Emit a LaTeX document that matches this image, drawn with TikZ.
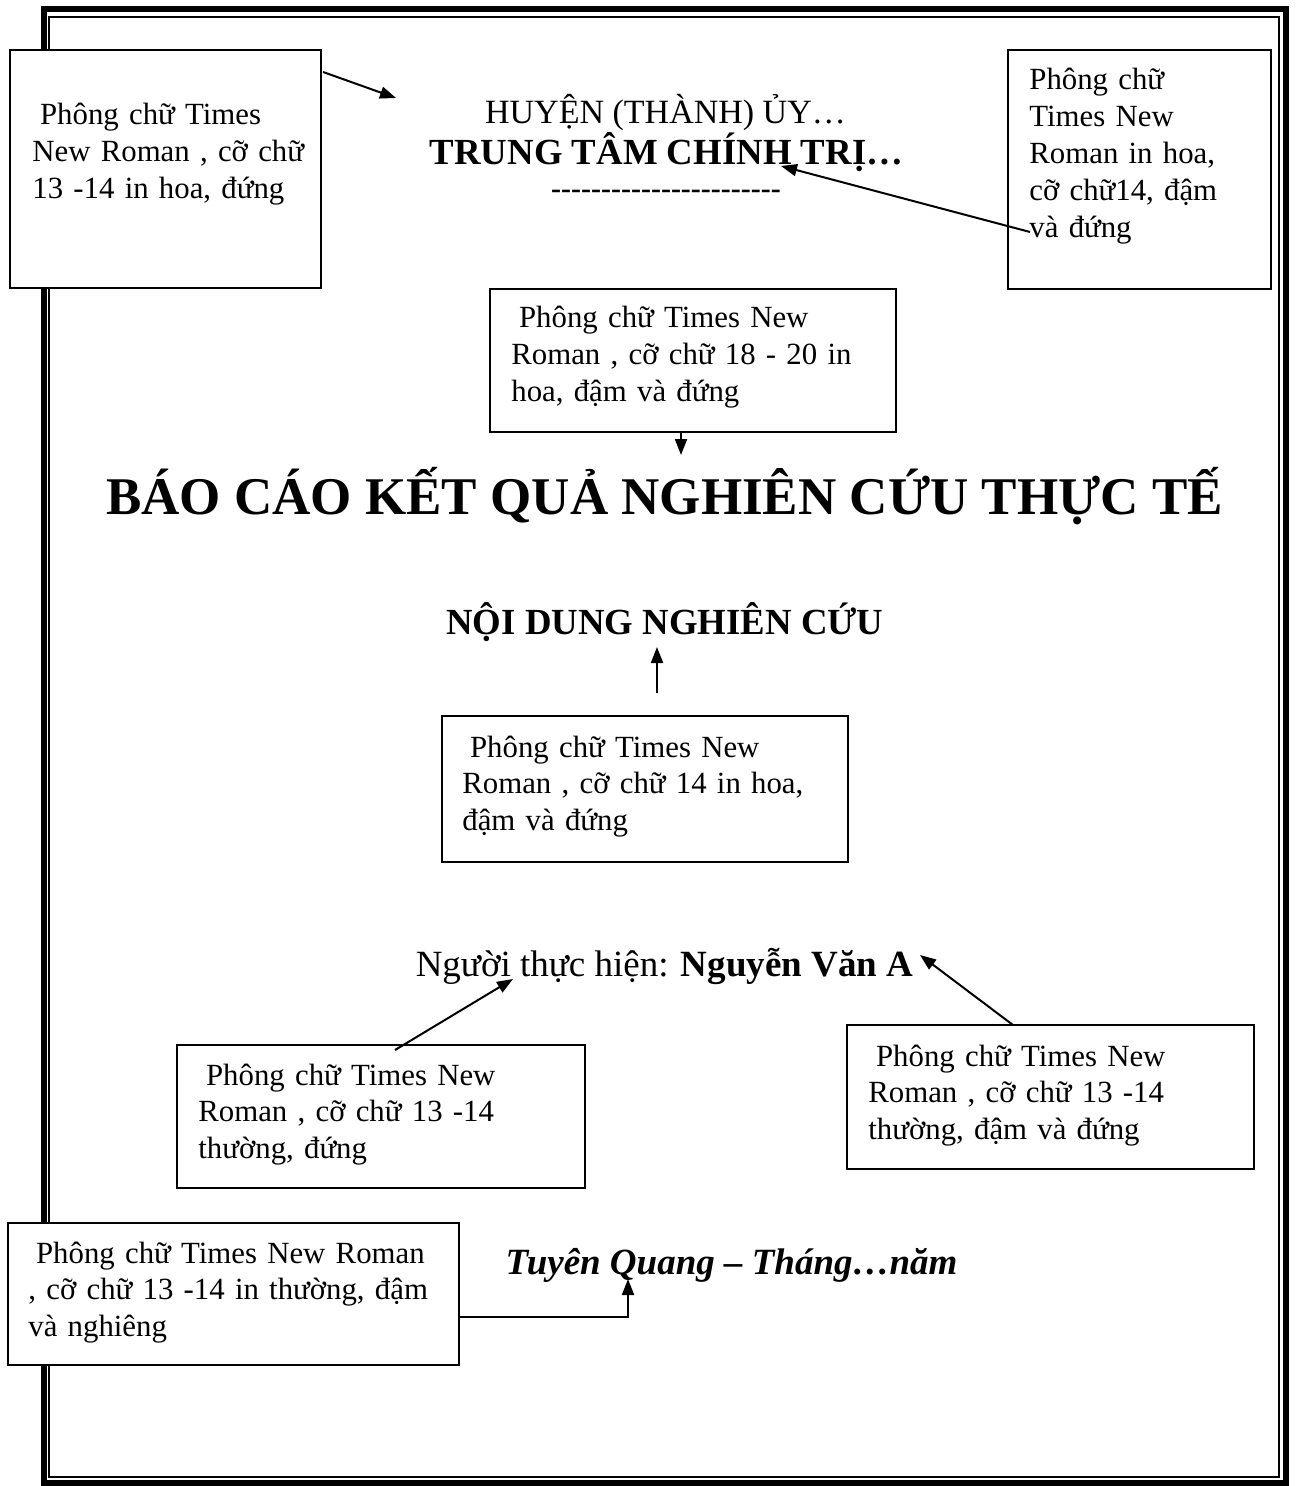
\documentclass[tikz,border=0pt]{standalone}
\usepackage{fontspec}
\setmainfont{Liberation Serif}
\usetikzlibrary{arrows.meta,calc}
\tikzset{
  boxnode/.style={draw, line width=1pt, fill=white, inner sep=0pt, outer sep=0pt},
  boxtext/.style={anchor=base west, inner sep=0pt, text width=240pt, align=left,
                  font=\fontsize{15.4}{18.4}\selectfont},
  headtext/.style={anchor=base, inner sep=0pt},
  arr/.style={line width=1pt, -{Triangle[length=8pt,width=6pt]}},
}
\newcommand{\lsp}{\hspace*{0.25em}}
\begin{document}
\begin{tikzpicture}[x=0.5pt,y=-0.5pt]
\useasboundingbox (0,0) rectangle (1296,1486);
\fill[white] (0,0) rectangle (1296,1486);
% page frame
\draw[line width=3pt] (43.5,9.5) rectangle (1286,1483);
\draw[line width=1pt] (49,17) rectangle (1279,1477);

% boxes
\node[boxnode, minimum width=155.5pt, minimum height=119pt] (b1) at (165.5,169) {};
\node[boxnode, minimum width=131.5pt, minimum height=119.5pt] (b2) at (1139.5,169.5) {};
\node[boxnode, minimum width=203pt, minimum height=71.5pt] (b3) at (693,360.5) {};
\node[boxnode, minimum width=203pt, minimum height=73pt] (b4) at (645,789) {};
\node[boxnode, minimum width=204pt, minimum height=71.5pt] (b5) at (381,1116.5) {};
\node[boxnode, minimum width=203.5pt, minimum height=72pt] (b6) at (1050.5,1097) {};
\node[boxnode, minimum width=225.5pt, minimum height=71pt] (b7) at (233.5,1294) {};

% box texts
\node[boxtext] (t1) at (32,125) {\lsp Phông chữ Times\\New Roman , cỡ chữ\\13 -14 in hoa, đứng};
\node[boxtext] (t2) at (1029,90) {Phông chữ\\Times New\\Roman in hoa,\\cỡ chữ14, đậm\\và đứng};
\node[boxtext] (t3) at (511,328) {\lsp Phông chữ Times New\\Roman , cỡ chữ 18 - 20 in\\hoa, đậm và đứng};
\node[boxtext] (t4) at (462,757) {\lsp Phông chữ Times New\\Roman , cỡ chữ 14 in hoa,\\đậm và đứng};
\node[boxtext] (t5) at (198,1085) {\lsp Phông chữ Times New\\Roman , cỡ chữ 13 -14\\thường, đứng};
\node[boxtext] (t6) at (868,1066) {\lsp Phông chữ Times New\\Roman , cỡ chữ 13 -14\\thường, đậm và đứng};
\node[boxtext] (t7) at (28,1263) {\lsp Phông chữ Times New Roman\\, cỡ chữ 13 -14 in thường, đậm\\và nghiêng};

% main texts
\node[headtext, font=\fontsize{17}{20}\selectfont] (huyen) at (665.5,124) {HUYỆN (THÀNH) ỦY…};
\node[headtext, font=\fontsize{18.4}{22}\selectfont\bfseries] (ttct) at (666.5,165) {TRUNG TÂM CHÍNH TRỊ…};
\node[headtext, font=\fontsize{15}{18}\selectfont\bfseries] (dash) at (666,199) {-{}-{}-{}-{}-{}-{}-{}-{}-{}-{}-{}-{}-{}-{}-{}-{}-{}-{}-{}-{}-{}-{}-{}};
\node[headtext, font=\fontsize{26.5}{30}\selectfont\bfseries] (title) at (664.5,514) {BÁO CÁO KẾT QUẢ NGHIÊN CỨU THỰC TẾ};
\node[headtext, font=\fontsize{18.4}{22}\selectfont\bfseries] (ndnc) at (665,634) {NỘI DUNG NGHIÊN CỨU};
\node[headtext, font=\fontsize{18.5}{22}\selectfont] (nth) at (664.5,976) {Người thực hiện: \textbf{Nguyễn Văn A}};
\node[headtext, font=\fontsize{18.5}{22}\selectfont\bfseries\itshape] (tq) at (731.5,1274) {Tuyên Quang – Tháng…năm};

% arrow tips
\coordinate (a1e) at (396,98);
\coordinate (a2e) at (781,166);
\coordinate (a3e) at (681,455);
\coordinate (a4e) at (657,647);
\coordinate (a5e) at (513,979);
\coordinate (a6e) at (920,955);
\coordinate (a7e) at (628,1279);

% connectors
\draw[arr] ($(b1.north east)+(2,22)$) -- (a1e);
\draw[arr] ($(b2.south west)+(22,-57)$) -- (a2e);
\draw[arr] ($(b3.south)+(-12,0)$) -- (a3e);
\draw[arr] ($(b4.north)+(12,-23)$) -- (a4e);
\draw[arr] ($(b5.north)+(14,5)$) -- (a5e);
\draw[arr] ($(b6.north)+(-37.5,0)$) -- (a6e);
\draw[arr] ($(b7.east)+(0,23)$) -| (a7e);
\end{tikzpicture}
\end{document}
